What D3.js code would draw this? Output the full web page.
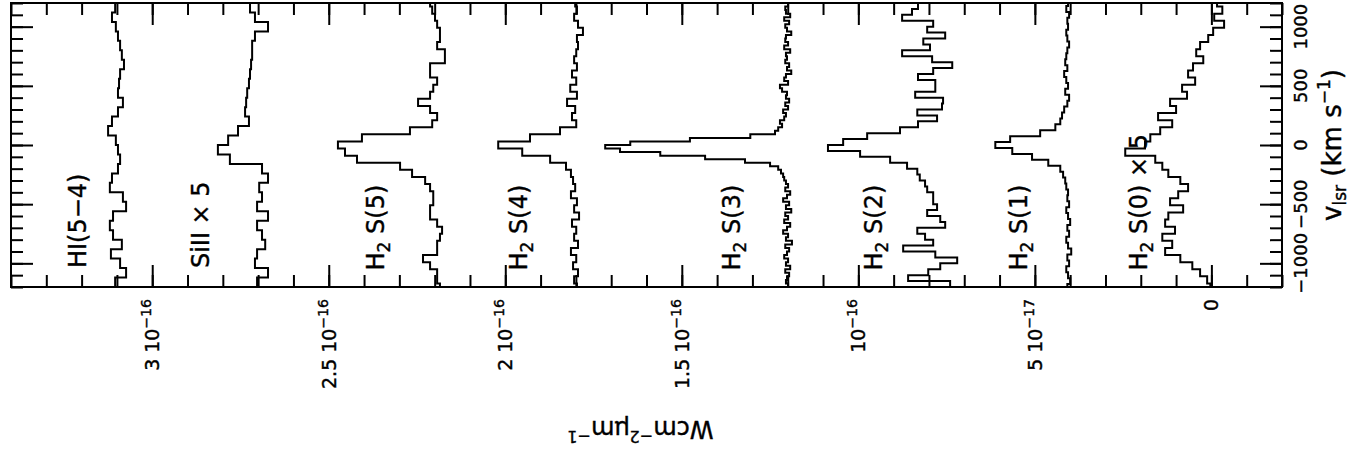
<!DOCTYPE html>
<html>
<head>
<meta charset="utf-8">
<script src="https://cdn.jsdelivr.net/npm/d3@7"></script>
<style>
  body { margin: 0; background: #fff; }
  text { font-family: "DejaVu Sans", sans-serif; fill: #000; stroke: #000; stroke-width: 0.4px; }
</style>
</head>
<body>
<div id="my_dataviz"></div>
<script>
// fluxes in units of 1e-16 W cm-2 um-1 (offset spectra as plotted), velocities in km/s
// each spectrum: values listed from the highest velocity bin downwards
var hi54 = [3.105,3.114,3.103,3.097,3.091,3.086,3.080,3.091,3.094,3.097,3.083,3.097,3.114,3.125,3.103,
            3.097,3.091,3.097,3.114,3.120,3.083,3.074,3.111,3.120,3.111,3.086,3.117,3.091,3.074,3.105];
var siII = [2.723,2.709,2.672,2.709,2.717,2.717,2.720,2.723,2.726,2.731,2.734,2.737,2.726,2.757,2.785,
            2.814,2.780,2.689,2.672,2.697,2.689,2.703,2.672,2.703,2.689,2.680,2.703,2.709,2.672,2.703];
var h2s5 = [2.213,2.207,2.199,2.193,2.185,2.185,2.193,2.171,2.171,2.213,2.213,2.193,2.204,2.213,2.247,
            2.213,2.193,2.207,2.270,2.406,2.474,2.454,2.420,2.298,2.264,2.227,2.213,2.204,2.204,2.213,
            2.213,2.193,2.179,2.185,2.193,2.193,2.233,2.213,2.193,2.193,2.185];
var h2s4 = [1.802,1.797,1.805,1.794,1.780,1.797,1.794,1.799,1.805,1.797,1.811,1.799,1.816,1.797,1.825,
            1.802,1.811,1.799,1.845,1.930,2.020,1.952,1.873,1.828,1.814,1.808,1.802,1.814,1.797,1.805,
            1.791,1.811,1.799,1.805,1.794,1.814,1.799,1.808,1.794,1.805,1.797];
var h2s3 = [1.199,1.207,1.205,1.193,1.210,1.196,1.207,1.202,1.190,1.205,1.207,1.199,1.210,1.193,1.205,
            1.202,1.207,1.196,1.202,1.190,1.205,1.210,1.199,1.222,1.216,1.202,1.205,1.196,1.207,1.199,
            1.213,1.205,1.210,1.222,1.216,1.227,1.236,1.306,1.477,1.646,1.717,1.675,1.561,1.434,1.321,
            1.250,1.227,1.219,1.213,1.210,1.205,1.199,1.207,1.193,1.202,1.213,1.196,1.205,1.190,1.207,
            1.199,1.210,1.193,1.202,1.213,1.199,1.205,1.188,1.207,1.196,1.202,1.210,1.199,1.205,1.193,
            1.207,1.196,1.202,1.205,1.199];
var h2s2 = [0.831,0.848,0.876,0.788,0.805,0.754,0.816,0.797,0.876,0.791,0.734,0.788,0.831,0.782,0.782,
            0.839,0.760,0.763,0.833,0.777,0.831,0.882,0.975,1.043,1.086,0.995,0.910,0.862,0.833,0.826,
            0.811,0.805,0.788,0.788,0.777,0.805,0.768,0.754,0.833,0.811,0.788,0.873,0.782,0.720,0.768,
            0.802,0.859,0.740];
var h2s1 = [0.406,0.411,0.403,0.408,0.406,0.411,0.408,0.403,0.408,0.411,0.414,0.408,0.417,0.411,0.406,
            0.414,0.403,0.408,0.417,0.423,0.428,0.442,0.485,0.570,0.612,0.564,0.508,0.462,0.428,0.420,
            0.414,0.411,0.406,0.408,0.403,0.411,0.406,0.400,0.408,0.403,0.411,0.406,0.397,0.408,0.403,
            0.411,0.406,0.400,0.408];
var h2s0 = [-0.016,-0.031,-0.008,-0.036,-0.005,0.009,0.032,0.043,0.023,0.052,0.066,0.046,0.083,0.069,0.117,
            0.100,0.151,0.111,0.145,0.173,0.188,0.244,0.159,0.139,0.122,0.088,0.066,0.094,0.117,0.080,
            0.122,0.131,0.103,0.139,0.111,0.131,0.088,0.054,0.032,0.012,0.003];

var specValues = [hi54, siII, h2s5, h2s4, h2s3, h2s2, h2s1, h2s0];
var specVTop   = [1200, 1200, 1230, 1230, 1200, 1200, 1225, 1230];   // upper edge of first bin
var specDv     = [80, 80, 60, 60, 30, 50, 50, 60];                   // bin width
var specLabel  = [["HI(5\u22124)", ""], ["SiII \u00d7 5", ""], ["H", "2", " S(5)"], ["H", "2", " S(4)"],
                  ["H", "2", " S(3)"], ["H", "2", " S(2)"], ["H", "2", " S(1)"], ["H", "2", " S(0) \u00d7 5"]];
var labelFlux  = [3.188, 2.839, 2.343, 1.938, 1.335, 0.933, 0.522, 0.182];
var labelVel   = [-1040, -1040, -1060, -1060, -1060, -1060, -1060, -1060];

var fluxTicks    = [3, 2.5, 2, 1.5, 1, 0.5, 0];
var fluxTickText = ["3 10", "2.5 10", "2 10", "1.5 10", "10", "5 10", "0"];
var fluxTickExp  = ["\u221216", "\u221216", "\u221216", "\u221216", "\u221216", "\u221217", ""];
var velTicks     = [-1000, -500, 0, 500, 1000];
var velTickText  = ["\u22121000", "\u2212500", "0", "500", "1000"];

var margin = {top: 3, right: 71, bottom: 169, left: 11},
    width = 1353 - margin.left - margin.right,
    height = 456 - margin.top - margin.bottom;

var svg = d3.select("#my_dataviz")
            .append("svg")
              .attr("width", width + margin.left + margin.right)
              .attr("height", height + margin.top + margin.bottom)
            .append("g")
              .attr("transform", "translate(" + margin.left + "," + margin.top + ")");

// flux runs right to left, velocity bottom to top
var x = d3.scaleLinear().domain([3.4, -0.2]).range([0, width]);
var y = d3.scaleLinear().domain([-1200, 1200]).range([height, 0]);

svg.append("clipPath").attr("id", "clip")
   .append("rect").attr("width", width).attr("height", height);

// spectra as step histograms
var line = d3.line()
             .x(function (d) { return x(d[0]); })
             .y(function (d) { return y(d[1]); });

specValues.forEach(function (vals, k) {
  var pts = [];
  vals.forEach(function (f, i) {
    var vHi = specVTop[k] - i * specDv[k];
    pts.push([f, vHi], [f, vHi - specDv[k]]);
  });
  svg.append("path")
     .attr("clip-path", "url(#clip)")
     .attr("d", line(pts))
     .attr("fill", "none")
     .attr("stroke", "#000")
     .attr("stroke-width", 2)
     .attr("stroke-linejoin", "miter");
});

// ticks on all four sides, pointing inward
var fluxMinor = d3.range(-2, 35).map(function (i) { return i / 10; });
var velMinor = d3.range(-12, 13).map(function (i) { return i * 100; });

function tickAxis(axis, tx, ty) {
  var g = svg.append("g")
             .attr("transform", "translate(" + tx + "," + ty + ")")
             .call(axis.tickFormat("").tickSizeOuter(0));
  g.select(".domain").remove();
  g.selectAll("line").attr("stroke", "#000").attr("stroke-width", 2);
}
[[fluxMinor, 12], [fluxTicks, 22]].forEach(function (t) {
  tickAxis(d3.axisTop(x).tickValues(t[0]).tickSizeInner(t[1]), 0, height);
  tickAxis(d3.axisBottom(x).tickValues(t[0]).tickSizeInner(t[1]), 0, 0);
});
[[velMinor, 12], [velTicks, 22]].forEach(function (t) {
  tickAxis(d3.axisRight(y).tickValues(t[0]).tickSizeInner(t[1]), 0, 0);
  tickAxis(d3.axisLeft(y).tickValues(t[0]).tickSizeInner(t[1]), width, 0);
});

svg.append("rect")
   .attr("width", width).attr("height", height)
   .attr("fill", "none").attr("stroke", "#000").attr("stroke-width", 2);

// flux tick labels (rotated)
var fl = svg.append("g").selectAll("text")
            .data(fluxTicks).enter()
            .append("text")
              .attr("transform", function (d) { return "translate(" + (x(d) + 7) + "," + (height + 12) + ") rotate(-90)"; })
              .attr("text-anchor", "end")
              .style("font-size", "19px");
fl.append("tspan").text(function (d, i) { return fluxTickText[i]; });
fl.append("tspan").attr("dy", -8).style("font-size", "14px").text(function (d, i) { return fluxTickExp[i]; });

// velocity tick labels
svg.append("g").selectAll("text")
   .data(velTicks).enter()
   .append("text")
     .attr("transform", function (d) { return "translate(" + (width + 25) + "," + y(d) + ") rotate(-90)"; })
     .attr("text-anchor", "middle")
     .style("font-size", "18px")
     .text(function (d, i) { return velTickText[i]; });

// spectrum labels
var sl = svg.append("g").selectAll("text")
            .data(specLabel).enter()
            .append("text")
              .attr("transform", function (d, i) { return "translate(" + x(labelFlux[i]) + "," + y(labelVel[i]) + ") rotate(-90)"; })
              .style("font-size", "24px");
sl.append("tspan").text(function (d) { return d[0]; });
sl.filter(function (d) { return d.length > 2; })
  .each(function (d) {
    var t = d3.select(this);
    t.append("tspan").attr("dy", 6).style("font-size", "17px").text(d[1]);
    t.append("tspan").attr("dy", -6).text(d[2]);
  });

// axis titles
var vt = svg.append("text")
            .attr("transform", "translate(" + (width + 59) + "," + y(0) + ") rotate(-90)")
            .attr("text-anchor", "middle")
            .style("font-size", "26px");
vt.append("tspan").text("v");
vt.append("tspan").attr("dy", 5).style("font-size", "17px").text("lsr");
vt.append("tspan").attr("dy", -5).text(" (km s");
vt.append("tspan").attr("dy", -11).style("font-size", "17px").text("\u22121");
vt.append("tspan").attr("dy", 11).text(")");

var ft = svg.append("text")
            .attr("transform", "translate(" + (width / 2 - 6) + "," + (height + 134) + ") rotate(180)")
            .attr("text-anchor", "middle")
            .style("font-size", "24px");
ft.append("tspan").text("Wcm");
ft.append("tspan").attr("dy", -10).style("font-size", "16px").text("\u22122");
ft.append("tspan").attr("dy", 10).text("\u03bcm");
ft.append("tspan").attr("dy", -10).style("font-size", "16px").text("\u22121");
</script>
</body>
</html>
